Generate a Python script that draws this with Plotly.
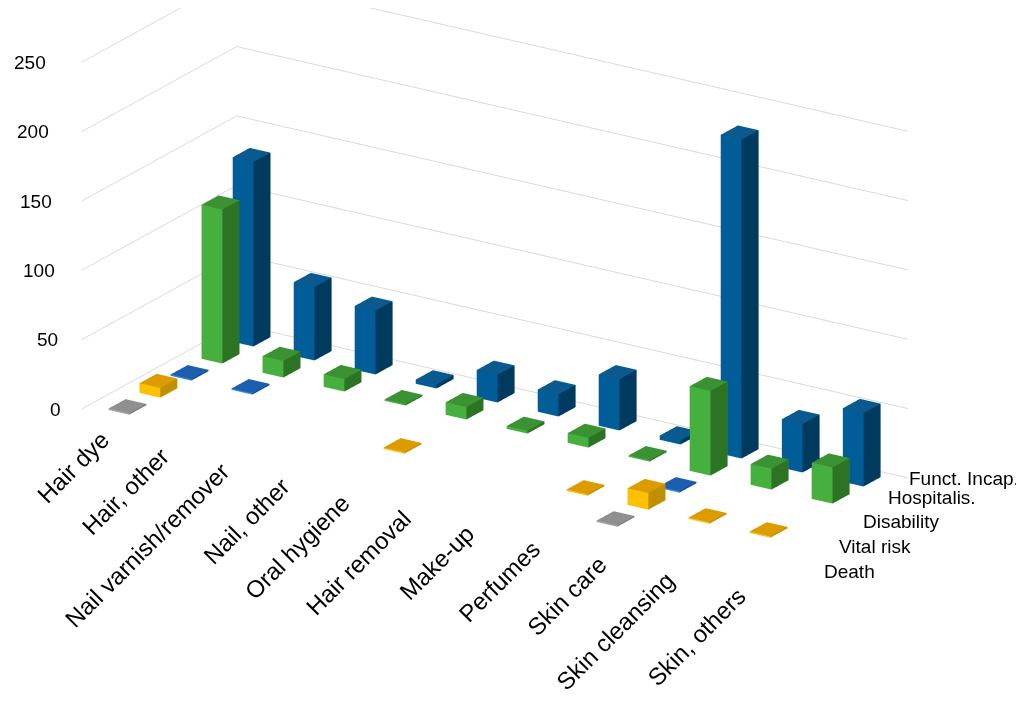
import plotly.graph_objects as go

categories = ["Hair dye", "Hair, other", "Nail varnish/remover", "Nail, other", "Oral hygiene",
              "Hair removal", "Make-up", "Perfumes", "Skin care", "Skin cleansing", "Skin, others"]
series_names = ["Death", "Vital risk", "Disability", "Hospitalis.", "Funct. Incap."]

death = [1, None, None, None, None, None, None, None, 1, None, None]
vital_risk = [7, None, None, None, 1, None, None, 1, 12, 1, 1]
disability = [1, 1, None, None, None, None, None, None, 1, None, None]
hospitalis = [111, 12, 9, 1, 9, 2, 7, 1, 61, 15, 26]
funct_incap = [133, 53, 46, 3, 20, 16, 37, 3, 230, 35, 53]

z_ticks = [0, 50, 100, 150, 200, 250]

# front, side, top
colors = [
    ("#a6a6a6", "#7f7f7f", "#8f8f8f"),
    ("#ffc000", "#bf9000", "#dc9c00"),
    ("#2f86e0", "#174f90", "#1b5fae"),
    ("#46b03e", "#2c7424", "#3a9232"),
    ("#005d98", "#003a5e", "#0a5a8f"),
]

all_values = [death, vital_risk, disability, hospitalis, funct_incap]

BAR_W = 0.34
BAR_D = 0.55


def box_mesh(values, s, cols, name):
    xs, ys, zs, ii, jj, kk, fc = [], [], [], [], [], [], []
    front, side, top = cols
    tris = [
        ((0, 1, 2), side), ((0, 2, 3), side),      # bottom
        ((4, 5, 6), top), ((4, 6, 7), top),        # top
        ((0, 1, 5), front), ((0, 5, 4), front),    # front
        ((3, 2, 6), front), ((3, 6, 7), front),    # back
        ((0, 3, 7), side), ((0, 7, 4), side),      # left
        ((1, 2, 6), side), ((1, 6, 5), side),      # right
    ]
    for i, v in enumerate(values):
        if v is None:
            continue
        x0, x1 = i - BAR_W / 2, i + BAR_W / 2
        y0, y1 = s - BAR_D / 2, s + BAR_D / 2
        n = len(xs)
        for z in (0, v):
            xs += [x0, x1, x1, x0]
            ys += [y0, y0, y1, y1]
            zs += [z, z, z, z]
        for (a, b, c), col in tris:
            ii.append(n + a)
            jj.append(n + b)
            kk.append(n + c)
            fc.append(col)
    return go.Mesh3d(
        x=xs, y=ys, z=zs, i=ii, j=jj, k=kk,
        facecolor=fc, flatshading=True,
        lighting=dict(ambient=1, diffuse=0, specular=0, roughness=1, fresnel=0),
        hoverinfo="skip", name=name, showlegend=False,
    )


fig = go.Figure()
for s, (vals, cols, nm) in enumerate(zip(all_values, colors, series_names)):
    fig.add_trace(box_mesh(vals, s, cols, nm))

font_family = "Liberation Sans, Arial, sans-serif"

annotations = []
# category labels along the front edge (small nudges mimic the original perspective)
label_dx = [5, 4, 3, 2, 2, 2, 4, 9, 15, 22, 32]
for i, c in enumerate(categories):
    annotations.append(dict(
        x=i, y=-0.5, z=0, text=c, textangle=-45, showarrow=False,
        xanchor="right", yanchor="top", xshift=label_dx[i], yshift=-15 + 7 - 1.5 * i,
        font=dict(size=24, color="black", family=font_family),
    ))
# series labels at the right end, stepped like the original
label_shift = [(54, -17), (38, -9), (31, -1), (25, 6), (15, 8)]
for s, nm in enumerate(series_names):
    annotations.append(dict(
        x=10.5, y=s, z=0, text=nm, showarrow=False,
        xanchor="left", yanchor="middle", xshift=label_shift[s][0], yshift=label_shift[s][1],
        font=dict(size=19, color="black", family=font_family),
    ))
# value axis labels on the front-left edge
for t in z_ticks:
    annotations.append(dict(
        x=-0.5, y=-0.5, z=t, text=str(t), showarrow=False,
        xanchor="right", yanchor="middle", xshift=-18 - 0.06 * t,
        font=dict(size=19, color="black", family=font_family),
    ))

axis_common = dict(showbackground=False, showspikes=False, zeroline=False, showline=False,
                   title="", ticks="", showticklabels=False)

fig.update_layout(
    width=1024, height=701,
    margin=dict(l=0, r=0, t=0, b=0),
    paper_bgcolor="white",
    font=dict(family=font_family, color="black"),
    scene=dict(
        xaxis=dict(range=[-0.5, 10.5], showgrid=False, **axis_common),
        yaxis=dict(range=[-0.5, 4.5], showgrid=False, **axis_common),
        zaxis=dict(range=[0, 250], tickvals=z_ticks, showgrid=True, gridcolor="#d9d9d9", gridwidth=2,
                   **axis_common),
        aspectmode="manual",
        aspectratio=dict(x=2.28, y=0.816, z=1.058),
        camera=dict(eye=dict(x=0.652, y=-0.875, z=0.144),
                    center=dict(x=0.043, y=0.067, z=-0.282),
                    up=dict(x=0, y=0, z=1), projection=dict(type="orthographic")),
        annotations=annotations,
    ),
)

fig.write_html("out.html")
